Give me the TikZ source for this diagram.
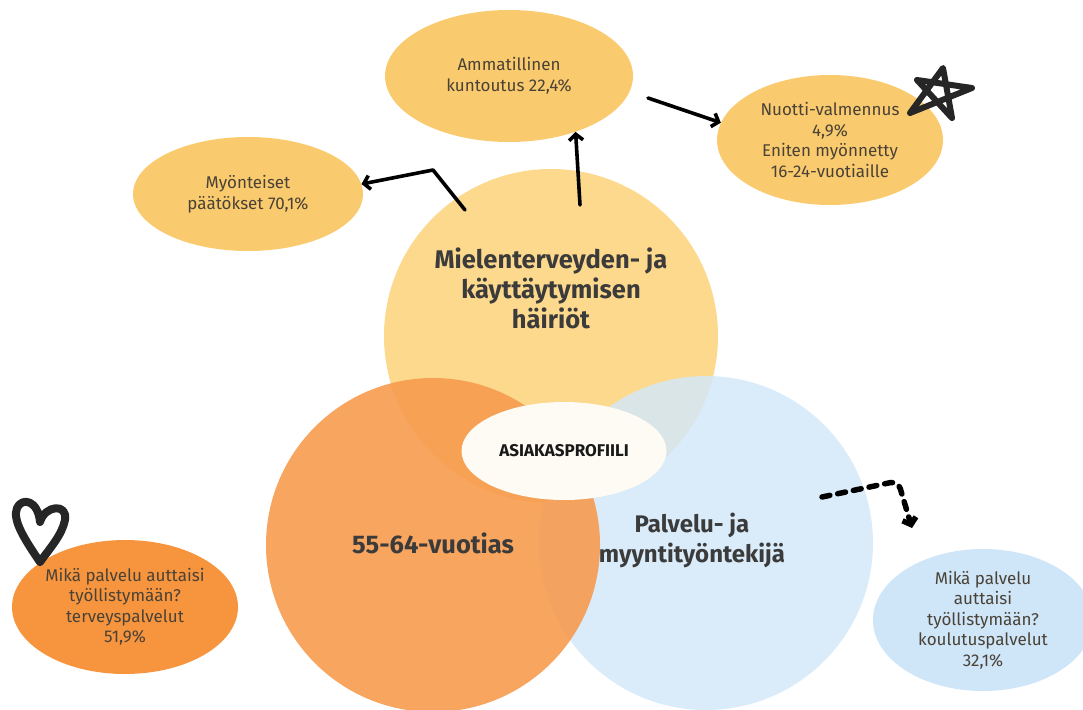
\documentclass[tikz,border=0pt]{standalone}
\usepackage{fontspec}
\setmainfont{Fira Sans}
\usetikzlibrary{calc}
\usetikzlibrary{shapes.geometric}
\usetikzlibrary{arrows.meta}

\definecolor{ymain}{HTML}{FCD98C}
\definecolor{ysmall}{HTML}{F9CA6E}
\definecolor{omain}{HTML}{F79B4E}
\definecolor{osmall}{HTML}{F7953F}
\definecolor{bmain}{HTML}{D3E8F8}
\definecolor{bsmall}{HTML}{CFE5F8}
\definecolor{profcol}{HTML}{FDFBF3}
\definecolor{headcol}{HTML}{3B3B3B}
\definecolor{smallcol}{HTML}{4A4236}

\tikzset{
  bigcirc/.style={circle, minimum size=334pt, inner sep=0pt},
  headtxt/.style={align=center, text=headcol, font=\bfseries\fontsize{25.5}{30}\selectfont},
  bubble/.style={ellipse, inner sep=0pt, align=center, text=smallcol, font=\fontsize{17}{20.5}\selectfont},
  arr/.style={line width=3.6pt, line cap=round, line join=round, -{Straight Barb[length=6pt,width=14pt]}},
  doodle/.style={line width=8pt, line cap=round, line join=round, black!85}
}

\begin{document}
\begin{tikzpicture}[x=1pt,y=-1pt]
\useasboundingbox (0,0) rectangle (1083,709);

% the three big circles
\node[bigcirc, fill=ymain] (mental) at (551,336) {};
\node[bigcirc, fill=bmain, fill opacity=0.85] (sales) at (706,543) {};
\node[bigcirc, fill=omain, fill opacity=0.9] (age) at (433,545) {};

\node[headtxt] (mentaltxt) at (551,288) {Mielenterveyden- ja\\käyttäytymisen\\häiriöt};
\node[headtxt] (agetxt) at (433,543) {55-64-vuotias};
\node[headtxt, font=\bfseries\fontsize{24}{30}\selectfont] (salestxt) at (692,540) {Palvelu- ja\\myyntityöntekijä};

\node[ellipse, fill=profcol, minimum width=205pt, minimum height=98pt, inner sep=0pt,
  font=\bfseries\fontsize{17}{19}\selectfont, text=black!90] (prof) at (564,451) {ASIAKASPROFIILI};

% small bubbles
\node[bubble, fill=ysmall, minimum width=248pt, minimum height=132pt] (amm) at (509,76) {Ammatillinen\\kuntoutus 22,4\%};
\node[bubble, fill=ysmall, minimum width=226pt, minimum height=130pt] (nuotti) at (830,140) {Nuotti-valmennus\\4,9\%\\Eniten myönnetty\\16-24-vuotiaille};
\node[bubble, fill=ysmall, minimum width=230pt, minimum height=114pt] (myont) at (248,194) {Myönteiset\\päätökset 70,1\%};
\node[bubble, fill=osmall, minimum width=226pt, minimum height=134pt] (ohelp) at (125,607) {Mikä palvelu auttaisi\\työllistymään?\\terveyspalvelut\\51,9\%};
\node[bubble, fill=bsmall, minimum width=220pt, minimum height=142pt] (bhelp) at (983,620) {Mikä palvelu\\auttaisi\\työllistymään?\\koulutuspalvelut\\32,1\%};

% arrows
\coordinate (a1) at (580,205);
\draw[arr] (a1) -- (amm.-40);
\coordinate (a2) at (648,98);
\draw[arr] (a2) -- (nuotti.171);
\coordinate (a3) at (465,210);
\coordinate (a3k) at (433,170);
\draw[arr] (a3) -- (a3k) -- (myont.5);
\coordinate (d1) at (822,497);
\coordinate (d2) at (898,481);
\coordinate (d3) at (912,528);
\draw[arr, rounded corners=8pt, dash pattern=on 8pt off 8pt, line width=5.5pt] (d1) -- (d2) -- (d3);

% star and heart
\draw[doodle, line width=6pt] (910,113) -- (943,68) -- (952,118) -- (917,80) -- (972,88) -- cycle;
\draw[doodle] (40,562) .. controls (25,540) and (12,520) .. (17,508)
  .. controls (22,497) and (38,500) .. (40,522)
  .. controls (45,505) and (68,503) .. (65,520)
  .. controls (62,535) and (50,548) .. (40,562);
\end{tikzpicture}
\end{document}
